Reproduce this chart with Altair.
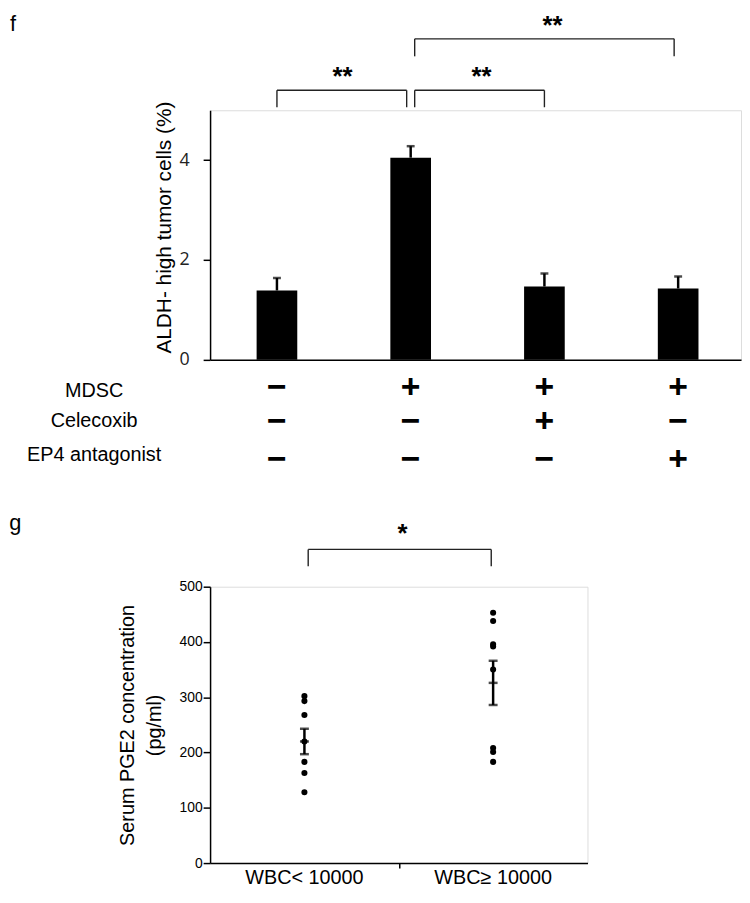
import altair as alt
import pandas as pd

# ---------------- Panel f data ----------------
f_pos = [0, 1, 2, 3]
f_mean = [1.39, 4.05, 1.47, 1.43]
f_se = [0.25, 0.23, 0.26, 0.24]
f_rows = ["MDSC", "Celecoxib", "EP4 antagonist"]
f_signs = [["−", "+", "+", "+"],
           ["−", "−", "+", "−"],
           ["−", "−", "−", "+"]]
f_br_x1 = [0.0, 1.03, 1.03]
f_br_x2 = [0.97, 2.0, 2.97]
f_br_lo = [5.06, 5.06, 6.08]
f_br_hi = [5.40, 5.40, 6.43]
f_star_x = [0.49, 1.53, 2.06]
f_star_y = [5.50, 5.50, 6.52]
f_star_t = ["**", "**", "**"]
f_row_label_y = [-0.734, -1.35, -2.02]
f_row_sign_y = [-0.754, -1.45, -2.21]
f_row_label_x = -1.367

# ---------------- Panel g data ----------------
g_labels = ["WBC< 10000", "WBC≥ 10000"]
g_pos = [0.5, 1.5]
g_low = [302, 293, 268, 220, 183, 163, 128]
g_high = [453, 438, 396, 392, 350, 208, 201, 183]
g_mean = [220, 326]
g_se = [23, 40]
g_br_x1, g_br_x2 = 0.52, 1.49
g_br_lo, g_br_hi = 537, 567.5
g_star_x, g_star_y, g_star_t = 1.02, 580.7, "*"

BLACK = "#000000"
BAR_HALF = 0.152   # half bar width, in x units

# ---------------- build tables ----------------
f_bars = pd.DataFrame({"x": f_pos, "y": f_mean,
                       "xl": [p - BAR_HALF for p in f_pos],
                       "xr": [p + BAR_HALF for p in f_pos],
                       "zero": [0] * len(f_pos),
                       "top": [m + s for m, s in zip(f_mean, f_se)]})
seg = []
for a, b, lo, hi in zip(f_br_x1, f_br_x2, f_br_lo, f_br_hi):
    seg += [dict(x=a, x2=a, y=lo, y2=hi), dict(x=a, x2=b, y=hi, y2=hi),
            dict(x=b, x2=b, y=lo, y2=hi)]
f_seg = pd.DataFrame(seg)
f_stars = pd.DataFrame({"x": f_star_x, "y": f_star_y, "t": f_star_t})
f_rowlab = pd.DataFrame({"x": [f_row_label_x] * 3, "y": f_row_label_y, "t": f_rows})
sg = []
for r, row in enumerate(f_signs):
    for c, s in enumerate(row):
        sg.append(dict(x=f_pos[c], y=f_row_sign_y[r], t=s))
f_sig = pd.DataFrame(sg)
f_tag = pd.DataFrame({"x": [-1.996], "y": [6.93], "t": ["f"]})

f_xs = alt.Scale(domain=[-0.5, 3.47], nice=False, zero=False, padding=0)
f_ys = alt.Scale(domain=[0, 5], nice=False, padding=0)
f_xaxis = alt.Axis(title=None, labels=False, ticks=False, grid=False,
                   domainColor=BLACK, domainWidth=1.5)
f_yaxis = alt.Axis(title="ALDH- high tumor cells (%)", values=[0, 2, 4],
                   tickSize=7, labelPadding=14, labelFont="Open Sans",
                   labelFontSize=18, titleFont="Liberation Sans",
                   titleFontSize=21, titleFontWeight="normal", titlePadding=5,
                   titleY=118, grid=False, domainColor=BLACK, domainWidth=1.5,
                   tickColor=BLACK, tickWidth=1.5, labelColor="#222",
                   titleColor=BLACK)


def FX(f="x"):
    return alt.X(f"{f}:Q", scale=f_xs, axis=f_xaxis)


def FY(f="y"):
    return alt.Y(f"{f}:Q", scale=f_ys, axis=f_yaxis)


f_layers = [
    alt.Chart(f_bars).mark_rect(color=BLACK).encode(
        x=FX("xl"), x2="xr:Q", y=FY("zero"), y2="y:Q"),
    alt.Chart(f_bars).mark_rule(color=BLACK, strokeWidth=2.5).encode(
        x=FX(), y=FY(), y2="top:Q"),
    alt.Chart(f_bars).mark_tick(color=BLACK, size=8, thickness=2.5,
                                orient="horizontal").encode(x=FX(), y=FY("top")),
    alt.Chart(f_seg).mark_rule(color="#222", strokeWidth=1.4).encode(
        x=FX(), x2="x2:Q", y=FY(), y2="y2:Q"),
    alt.Chart(f_stars).mark_text(font="Liberation Sans", fontSize=26,
                                 fontWeight="bold", baseline="alphabetic",
                                 color=BLACK).encode(x=FX(), y=FY(), text="t:N"),
    alt.Chart(f_rowlab).mark_text(font="Liberation Sans", fontSize=20,
                                  baseline="alphabetic", align="center",
                                  color=BLACK).encode(x=FX(), y=FY(), text="t:N"),
    alt.Chart(f_sig).mark_text(font="Liberation Sans", fontSize=34,
                               fontWeight="bold", baseline="alphabetic",
                               align="center",
                               color=BLACK).encode(x=FX(), y=FY(), text="t:N"),
    alt.Chart(f_tag).mark_text(font="Liberation Sans", fontSize=22,
                               baseline="top", align="left",
                               color=BLACK).encode(x=FX(), y=FY(), text="t:N"),
]
panel_f = alt.layer(*f_layers).properties(width=536, height=252)

# ---------------- panel g ----------------
g_pts = pd.DataFrame({"x": [g_pos[0]] * len(g_low) + [g_pos[1]] * len(g_high),
                      "y": g_low + g_high})
g_stats = pd.DataFrame({"x": g_pos, "y": g_mean,
                        "lo": [m - s for m, s in zip(g_mean, g_se)],
                        "hi": [m + s for m, s in zip(g_mean, g_se)]})
g_seg = pd.DataFrame([dict(x=g_br_x1, x2=g_br_x1, y=g_br_lo, y2=g_br_hi),
                      dict(x=g_br_x1, x2=g_br_x2, y=g_br_hi, y2=g_br_hi),
                      dict(x=g_br_x2, x2=g_br_x2, y=g_br_lo, y2=g_br_hi)])
g_star = pd.DataFrame({"x": [g_star_x], "y": [g_star_y], "t": [g_star_t]})
g_cat = pd.DataFrame({"x": g_pos, "y": [-9, -9], "t": g_labels})
g_tag = pd.DataFrame({"x": [-1.064], "y": [633], "t": ["g"]})

g_xs = alt.Scale(domain=[0, 2], nice=False, zero=False, padding=0)
g_ys = alt.Scale(domain=[0, 500], nice=False, padding=0)
g_xaxis = alt.Axis(title=None, labels=False, values=[1], tickSize=5,
                   grid=False, domainColor=BLACK, domainWidth=1.5,
                   tickColor=BLACK, tickWidth=1.5)
g_yaxis = alt.Axis(title=["Serum PGE2 concentration", "(pg/ml)"],
                   values=[0, 100, 200, 300, 400, 500], tickSize=7,
                   labelPadding=1, labelFont="Liberation Sans",
                   labelFontSize=14, titleFont="Liberation Sans",
                   titleFontSize=20, titleFontWeight="normal",
                   titleLineHeight=27, titlePadding=15, grid=False,
                   domainColor=BLACK, domainWidth=1.5, tickColor=BLACK,
                   tickWidth=1.5, labelColor=BLACK, titleColor=BLACK)


def GX(f="x"):
    return alt.X(f"{f}:Q", scale=g_xs, axis=g_xaxis)


def GY(f="y"):
    return alt.Y(f"{f}:Q", scale=g_ys, axis=g_yaxis)


g_layers = [
    alt.Chart(g_pts).mark_circle(size=38, color=BLACK, opacity=1).encode(
        x=GX(), y=GY()),
    alt.Chart(g_stats).mark_rule(color=BLACK, strokeWidth=2.5).encode(
        x=GX(), y=GY("lo"), y2="hi:Q"),
    alt.Chart(g_stats).mark_tick(color=BLACK, size=9, thickness=2.5,
                                 orient="horizontal").encode(x=GX(), y=GY()),
    alt.Chart(g_stats).mark_tick(color=BLACK, size=9, thickness=2.5,
                                 orient="horizontal").encode(x=GX(), y=GY("lo")),
    alt.Chart(g_stats).mark_tick(color=BLACK, size=9, thickness=2.5,
                                 orient="horizontal").encode(x=GX(), y=GY("hi")),
    alt.Chart(g_seg).mark_rule(color="#222", strokeWidth=1.4).encode(
        x=GX(), x2="x2:Q", y=GY(), y2="y2:Q"),
    alt.Chart(g_star).mark_text(font="Liberation Sans", fontSize=26,
                                fontWeight="bold", baseline="alphabetic",
                                color=BLACK).encode(x=GX(), y=GY(), text="t:N"),
    alt.Chart(g_cat).mark_text(font="Liberation Sans", fontSize=20,
                               baseline="top", align="center",
                               color=BLACK).encode(x=GX(), y=GY(), text="t:N"),
    alt.Chart(g_tag).mark_text(font="Liberation Sans", fontSize=22,
                               baseline="top", align="left",
                               color=BLACK).encode(x=GX(), y=GY(), text="t:N"),
]
panel_g = alt.layer(*g_layers).properties(width=381, height=279)

chart = alt.vconcat(panel_f, panel_g, spacing=229, bounds="flush").properties(
    padding=0
).configure_view(stroke=None).configure(background="white")

chart.save("out.html", embed_options={"renderer": "svg", "actions": False})
